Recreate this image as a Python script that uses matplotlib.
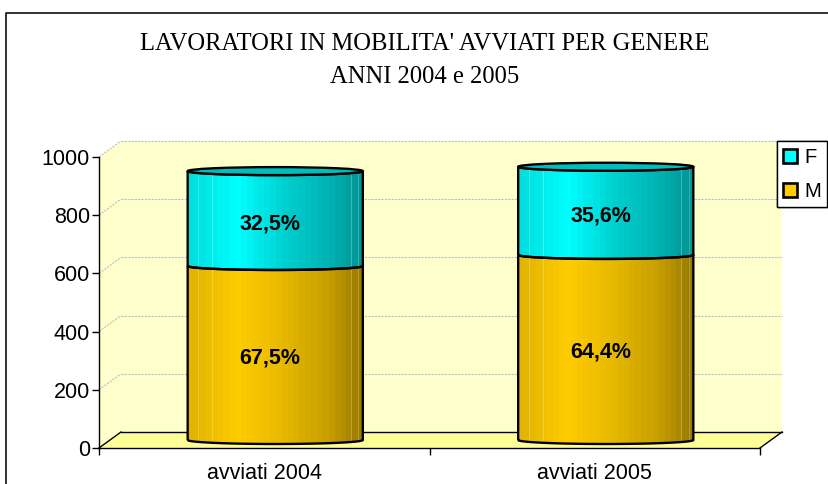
from matplotlib import pyplot as plt
from matplotlib.colors import LinearSegmentedColormap
from matplotlib.lines import Line2D
from matplotlib.patches import Ellipse, Patch, PathPatch, Polygon, Rectangle
from matplotlib.path import Path
from matplotlib.transforms import ScaledTranslation
import numpy as np

## DATA
title_lines = ["LAVORATORI IN MOBILITA' AVVIATI PER GENERE", "ANNI 2004 e 2005"]
categories = ["avviati 2004", "avviati 2005"]
values_m = [598, 636]
values_f = [326, 303]
labels_m = ["67,5%", "64,4%"]
labels_f = ["32,5%", "35,6%"]
y_ticks = [0, 200, 400, 600, 800, 1000]

## PARAMETERS
W, H, DPI = 829, 484, 100
LEFT, RIGHT, BOTTOM, TOP = 99, 760, 448, 157   # front plane, in pixels
DEPTH_X, DEPTH_Y = 22, 16                      # depth of the 3d box, in pixels
BAR_WIDTH = 0.53
CAP_PX = 4
FONT = 15.5

WALL = "#FFFFCC"
FLOOR = "#FFFF99"
GRID = "#BEBEC8"
CYAN = ["#00DEDE", "#00FFFF", "#00D0D0", "#00B4B4", "#009696"]
GOLD = ["#E0B400", "#FFCC00", "#E6B800", "#C8A000", "#9C7C00"]
STOPS = [0.0, 0.27, 0.55, 0.8, 1.0]
CAP_F = "#00BEBE"


def shifted(ax, frac, base):
    # move something back into the box by a fraction of the depth
    return base + ScaledTranslation(frac * DEPTH_X / DPI, frac * DEPTH_Y / DPI,
                                    ax.figure.dpi_scale_trans)


def draw_segment(ax, trans, x, y0, y1, colors, ry):
    rx = BAR_WIDTH / 2
    t = np.linspace(np.pi, 2 * np.pi, 60)
    xs = x + rx * np.cos(t)
    lower = np.column_stack((xs, y0 + ry * np.sin(t)))
    upper = np.column_stack((xs[::-1], y1 + ry * np.sin(t)[::-1]))
    outline = np.vstack((lower, upper, lower[:1]))

    patch = PathPatch(Path(outline), facecolor="none", edgecolor="black",
                      linewidth=1.7, transform=trans, zorder=4)
    ax.add_patch(patch)

    # banded gradient, the way the chart renders the cylinder
    cmap = LinearSegmentedColormap.from_list("bar", list(zip(STOPS, colors)))
    grad = np.linspace(0, 1, 30).reshape(1, -1)
    im = ax.imshow(grad, cmap=cmap, vmin=0, vmax=1, aspect="auto",
                   interpolation="nearest", transform=trans, zorder=3,
                   extent=(x - rx, x + rx, y0 - ry, y1 + ry))
    im.set_clip_path(PathPatch(Path(outline), transform=trans))

    for pos in [0.06, 0.14, 0.93, 0.975]:
        ax.plot([x - rx + pos * 2 * rx] * 2, [y0, y1], color="white", alpha=0.25,
                linewidth=0.7, transform=trans, zorder=3.5)


def main():
    fig = plt.figure(figsize=(W / DPI, H / DPI), dpi=DPI)
    ax = fig.add_axes([LEFT / W, 1 - BOTTOM / H, (RIGHT - LEFT) / W, (BOTTOM - TOP) / H])
    n = len(categories)
    ax.set_xlim(0, n)
    ax.set_ylim(0, 1000)
    ax.patch.set_visible(False)

    # Outer frame, only left and top are in the picture
    fig.add_artist(Line2D([6.5 / W, 6.5 / W, 1], [0, 1 - 13 / H, 1 - 13 / H], color="#222222",
                          linewidth=1.3, transform=fig.transFigure))

    # Box walls and floor
    back = shifted(ax, 1, ax.transData)
    mid = shifted(ax, 0.5, ax.transData)
    ax.add_patch(Rectangle((0, 0), n, 1000, facecolor=WALL, edgecolor="none",
                           transform=back, zorder=0, clip_on=False))
    side = np.array([[0, 0], [0, 1000]])
    to_data = ax.transData.inverted()
    ax.add_patch(Polygon(np.vstack((side, to_data.transform(back.transform(side[::-1])))),
                         facecolor=WALL, edgecolor="none", zorder=0, clip_on=False))
    floor = np.array([[0, 0], [n, 0]])
    ax.add_patch(Polygon(np.vstack((floor, to_data.transform(back.transform(floor[::-1])))),
                         facecolor=FLOOR, edgecolor="none", zorder=1, clip_on=False))

    for tick in y_ticks[1:]:
        ax.plot([0, n], [tick, tick], color=GRID, linestyle=(0, (2, 1)), linewidth=0.8,
                transform=back, zorder=1, clip_on=False)
    for tick in y_ticks[1:]:
        bx, by = to_data.transform(back.transform((0, tick)))
        ax.plot([0, bx], [tick, by], color=GRID, linestyle=(0, (2, 1)), linewidth=0.8,
                zorder=1, clip_on=False)

    # Floor edges
    ax.plot([0, n], [0, 0], color="black", linewidth=1.0, transform=back, zorder=2, clip_on=False)
    bx, by = to_data.transform(back.transform((0, 0)))
    ax.plot([0, bx], [0, by], color="black", linewidth=1.0, zorder=2, clip_on=False)
    ax.plot([n, n + bx], [0, by], color="black", linewidth=1.0, zorder=2, clip_on=False)

    # Cylinders
    ry = 1000 * CAP_PX / (BOTTOM - TOP)
    label_off = ScaledTranslation(-5 / DPI, -5 / DPI, fig.dpi_scale_trans)
    for i in range(n):
        x = i + 0.5
        m, f = values_m[i], values_f[i]
        draw_segment(ax, mid, x, 0, m, GOLD, ry)
        draw_segment(ax, mid, x, m, m + f, CYAN, ry)
        ax.add_patch(Ellipse((x, m + f), BAR_WIDTH, 2 * ry, facecolor=CAP_F, edgecolor="black",
                             linewidth=1.7, transform=mid, zorder=5))
        ax.text(x, m / 2, labels_m[i], ha="center", va="center", fontsize=FONT, fontweight="bold",
                transform=mid + label_off, zorder=6)
        ax.text(x, m + f / 2, labels_f[i], ha="center", va="center", fontsize=FONT, fontweight="bold",
                transform=mid + label_off, zorder=6)

    # Axes
    for name in ["top", "right"]:
        ax.spines[name].set_visible(False)
    for name in ["left", "bottom"]:
        ax.spines[name].set_linewidth(1.0)
        ax.spines[name].set_zorder(2.5)
    ax.set_yticks(y_ticks)
    ax.set_xticks(np.arange(n + 1))
    ax.set_xticklabels([])
    ax.set_xticks(np.arange(n) + 0.5, minor=True)
    ax.set_xticklabels(categories, minor=True)
    ax.tick_params(axis="x", which="minor", length=0, pad=11, labelsize=FONT)
    ax.tick_params(axis="x", which="major", length=5, width=1.0)
    ax.tick_params(axis="y", length=5, width=1.0, pad=1.5, labelsize=FONT)

    # Title
    fig.text(425 / W, 1 - 44 / H, title_lines[0], ha="center", va="center", fontsize=17.7,
             family="Liberation Serif")
    fig.text(425 / W, 1 - 77 / H, title_lines[1], ha="center", va="center", fontsize=17.7,
             family="Liberation Serif")

    # Legend
    handles = [Patch(facecolor="#00FFFF", edgecolor="black", linewidth=1.9, label="F"),
               Patch(facecolor="#FFCC00", edgecolor="black", linewidth=1.9, label="M")]
    leg = fig.legend(handles=handles, loc="upper right", bbox_to_anchor=(827.5 / W, 1 - 141 / H),
                     fontsize=14.5, handlelength=0.68, handleheight=0.68, handletextpad=0.35,
                     labelspacing=0.75, borderpad=0.33, borderaxespad=0, fancybox=False,
                     framealpha=1, edgecolor="black",
                     shadow={"ox": 1 / DPI, "oy": -1 / DPI, "facecolor": "#808080", "alpha": 1, "shade": 1})
    leg.get_frame().set_linewidth(1.0)

    fig.savefig("out.png", dpi=DPI)


if __name__ == "__main__":
    plt.rcParams["font.family"] = ["Liberation Sans", "DejaVu Sans"]
    main()
